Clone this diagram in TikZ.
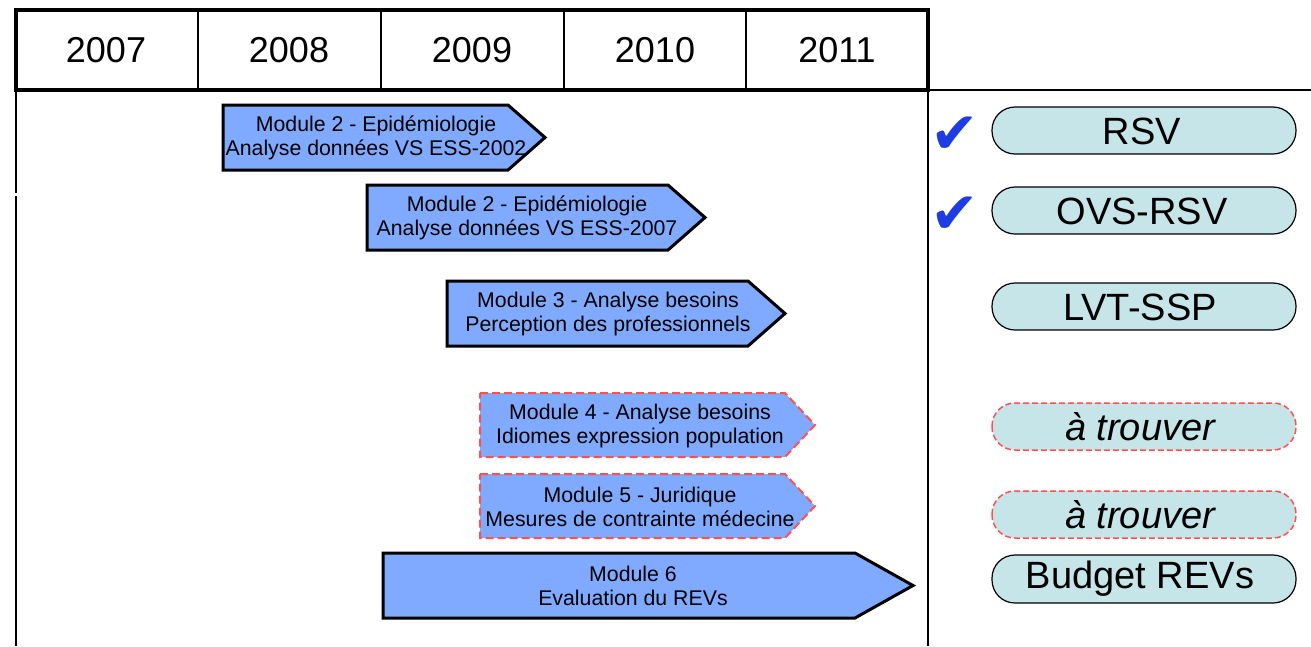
\documentclass[tikz,border=0pt]{standalone}
\usepackage{fontspec}
\setmainfont{Liberation Sans}
\newfontfamily\symfont{DejaVu Sans}
\definecolor{arrowblue}{RGB}{128,170,255}
\definecolor{pillcyan}{RGB}{197,229,232}
\definecolor{dashred}{RGB}{255,80,80}
\definecolor{checkblue}{RGB}{30,60,230}
\tikzset{
  modsolid/.style={fill=arrowblue, draw=black, line width=3pt, line join=miter},
  moddashed/.style={fill=arrowblue, draw=dashred, line width=2pt, dash pattern=on 8pt off 4pt},
  modtext/.style={align=center, font=\fontsize{21.3}{24}\selectfont, inner sep=0pt},
  yeartext/.style={font=\fontsize{36}{40}\selectfont, inner sep=0pt},
  pill/.style={fill=pillcyan, draw=black, line width=1.2pt, rounded corners=23pt},
  pilldashed/.style={fill=pillcyan, draw=dashred, line width=1.5pt, dash pattern=on 6pt off 3pt, rounded corners=23pt},
  pilltext/.style={font=\fontsize{38}{40}\selectfont, inner sep=0pt},
  checkmark/.style={text=checkblue, font=\symfont\fontsize{58}{60}\selectfont, inner sep=0pt},
  thinline/.style={line width=1.5pt}
}
\begin{document}
\begin{tikzpicture}[x=1pt,y=-1pt]
\useasboundingbox (0,0) rectangle (1311,646);
% frame lines
\draw[thinline] (16,90) -- (16,193);
\draw[thinline] (16,196) -- (16,646);
\draw[thinline] (928,90) -- (928,646);
\draw[thinline] (928,90) -- (1311,90);
% year table
\draw[thinline] (198,10) -- (198,90);
\draw[thinline] (381,10) -- (381,90);
\draw[thinline] (564,10) -- (564,90);
\draw[thinline] (746,10) -- (746,90);
\draw[line width=4pt] (16,10) rectangle (928,90);
\node[yeartext] (y2007) at (106,50) {2007};
\node[yeartext] (y2008) at (289,50) {2008};
\node[yeartext] (y2009) at (472,50) {2009};
\node[yeartext] (y2010) at (655,50) {2010};
\node[yeartext] (y2011) at (837,50) {2011};
% module arrows
\draw[modsolid] (223,105) -- (508,105) -- (545,137.5) -- (508,170) -- (223,170) -- cycle;
\node[modtext] (m2a) at (376,138) {Module 2 - Epidémiologie\\Analyse données VS ESS-2002};
\draw[modsolid] (367,185) -- (668,185) -- (705,217.5) -- (668,250) -- (367,250) -- cycle;
\node[modtext] (m2b) at (527,218) {Module 2 - Epidémiologie\\Analyse données VS ESS-2007};
\draw[modsolid] (447,281) -- (748,281) -- (785,313.5) -- (748,346) -- (447,346) -- cycle;
\node[modtext] (m3) at (608,314) {Module 3 - Analyse besoins\\Perception des professionnels};
\draw[moddashed] (480,393) -- (785,393) -- (815,425) -- (785,457) -- (480,457) -- cycle;
\node[modtext] (m4) at (640,426) {Module 4 - Analyse besoins\\Idiomes expression population};
\draw[moddashed] (480,474) -- (785,474) -- (815,506) -- (785,538) -- (480,538) -- cycle;
\node[modtext] (m5) at (640,507) {Module 5 - Juridique\\Mesures de contrainte médecine};
\draw[modsolid] (383,553) -- (855,553) -- (913,585.5) -- (855,618) -- (383,618) -- cycle;
\node[modtext] (m6) at (633,586) {Module 6\\Evaluation du REVs};
% pills
\draw[pill] (992,107) rectangle (1296,154);
\node[pilltext] (rsv) at (1142,131) {RSV};
\draw[pill] (992,187) rectangle (1296,234);
\node[pilltext] (ovs) at (1142,211) {OVS-RSV};
\draw[pill] (992,283) rectangle (1296,330);
\node[pilltext] (lvt) at (1140,307) {LVT-SSP};
\draw[pilldashed] (992,403) rectangle (1296,450);
\node[pilltext] (t1) at (1140,427) {\itshape à trouver};
\draw[pilldashed] (992,491) rectangle (1296,538);
\node[pilltext] (t2) at (1140,515) {\itshape à trouver};
\draw[pill] (992,555) rectangle (1296,603);
\node[pilltext] (bud) at (1140,579) {Budget REVs};
% check marks
\node[checkmark] (c1) at (955,135) {✔};
\node[checkmark] (c2) at (955,215) {✔};
\end{tikzpicture}
\end{document}
